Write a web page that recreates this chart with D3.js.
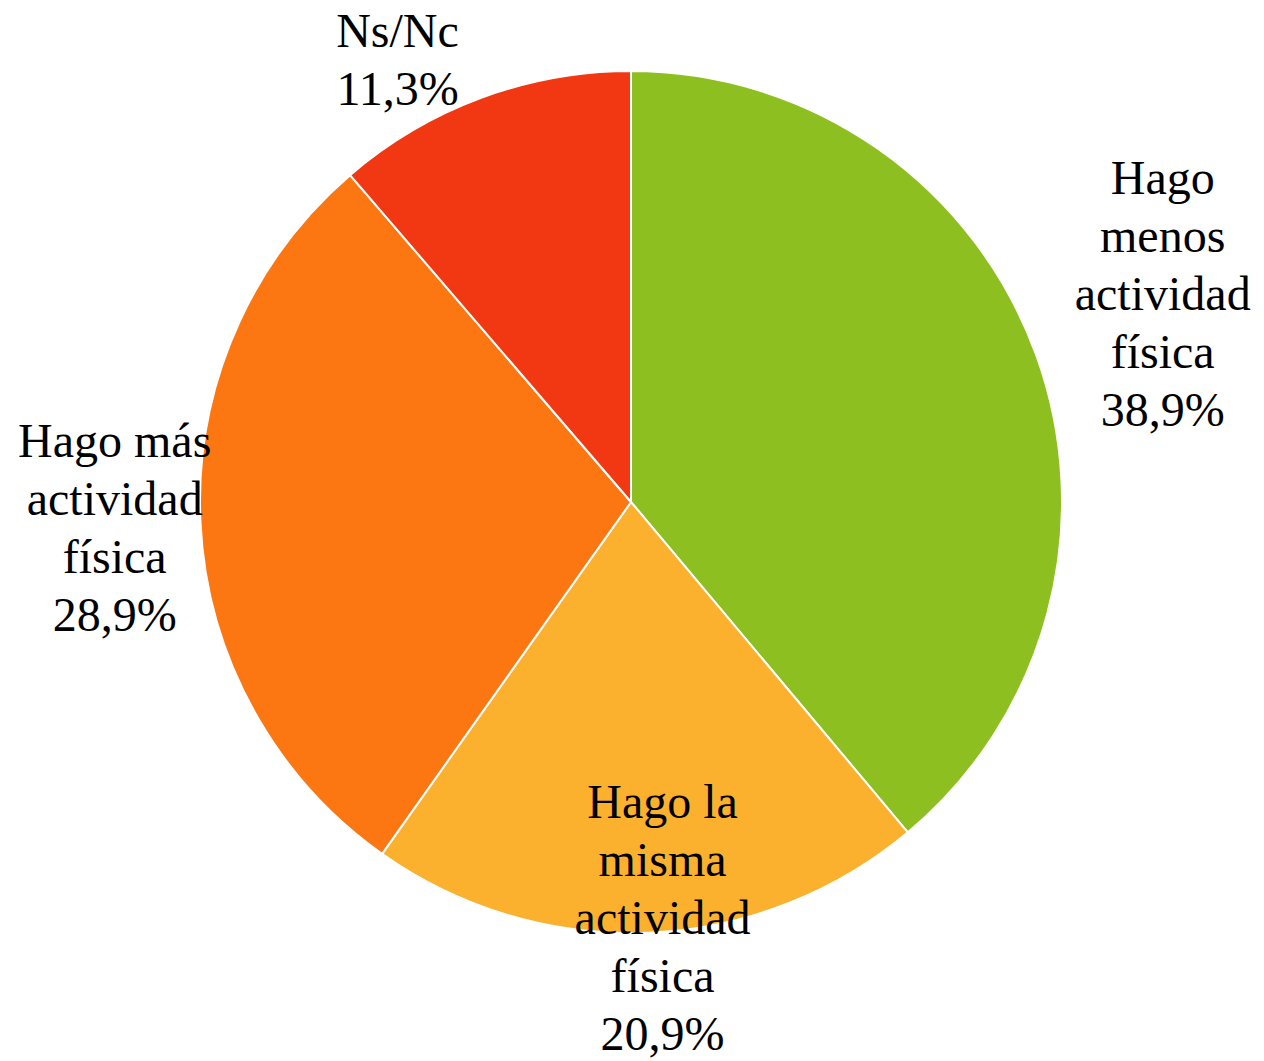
<!DOCTYPE html>
<html>
<head>
<meta charset="utf-8">
<script src="https://cdn.jsdelivr.net/npm/d3@7"></script>
<style>
  html, body { margin: 0; padding: 0; background: #fff; }
  svg { display: block; }
</style>
</head>
<body>
<svg id="chart" width="1264" height="1061"></svg>
<script>
// Answers, in clockwise order from 12 o'clock
const categories = [
  "Hago menos actividad física",
  "Hago la misma actividad física",
  "Hago más actividad física",
  "Ns/Nc"
];
const values = [38.9, 20.9, 28.9, 11.3];
const colors = ["#8CBF1F", "#FBB02E", "#FC7711", "#F23713"];

// How each label is wrapped into lines
const labelLines = [
  ["Hago", "menos", "actividad", "física"],
  ["Hago la", "misma", "actividad", "física"],
  ["Hago más", "actividad", "física"],
  ["Ns/Nc"]
];
// Label placement: distance from the centre and angular nudge (degrees)
const labelRadius = [571, 417, 517, 500];
const labelAngleShift = [-1.4, -2.0, -0.2, -7.5];

const width = 1264, height = 1061;
const cx = 631, cy = 502, radius = 431;
const fontSize = 48, lineHeight = 58;

const fmt = v => v.toFixed(1).replace(".", ",") + "%";

const svg = d3.select("#chart");
const g = svg.append("g").attr("transform", `translate(${cx},${cy})`);

const pie = d3.pie().sort(null).value(d => d)(values);
const arc = d3.arc().innerRadius(0).outerRadius(radius);

g.selectAll("path.slice")
  .data(pie)
  .join("path")
  .attr("class", "slice")
  .attr("d", arc)
  .attr("fill", (d, i) => colors[i])
  .attr("stroke", "#fff")
  .attr("stroke-width", 2)
  .attr("stroke-linejoin", "round");

const labels = g.selectAll("text.label")
  .data(pie)
  .join("text")
  .attr("class", "label")
  .attr("font-family", "'Liberation Serif', 'DejaVu Serif', serif")
  .attr("font-size", fontSize)
  .attr("fill", "#000")
  .attr("text-anchor", "middle")
  .each(function (d, i) {
    const mid = (d.startAngle + d.endAngle) / 2 + labelAngleShift[i] * Math.PI / 180;
    const r = labelRadius[i];
    const x = r * Math.sin(mid);
    const y = -r * Math.cos(mid);
    const lines = labelLines[i].concat([fmt(values[i])]);
    const first = y - (lines.length - 1) * lineHeight / 2 + fontSize * 0.33;
    const t = d3.select(this);
    lines.forEach((ln, k) => {
      t.append("tspan")
        .attr("x", x)
        .attr("y", first + k * lineHeight)
        .text(ln);
    });
  });
</script>
</body>
</html>
